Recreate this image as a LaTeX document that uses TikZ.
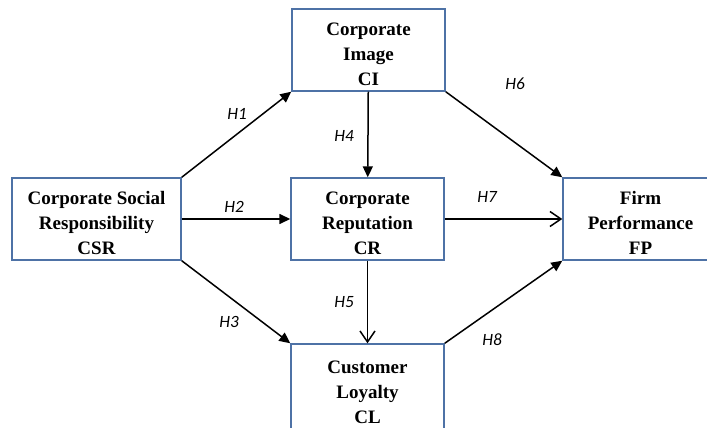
\documentclass[tikz,border=0pt]{standalone}
\usepackage{fontspec}
\setmainfont{Liberation Serif}
\newfontfamily\hlabfont{Carlito}
\usetikzlibrary{positioning,arrows.meta}
\definecolor{boxline}{HTML}{4E72A6}
\tikzset{
  % --- constructs ------------------------------------------------------
  construct/.style={draw=boxline, line width=0.7pt, fill=white,
                    inner sep=0pt, minimum width=76.5pt, minimum height=41pt,
                    font=\fontsize{9.5}{12.5}\selectfont\bfseries},
  % --- arrows ----------------------------------------------------------
  arrow/.style    ={-{Triangle[length=5.5pt,width=5pt]}, line width=0.75pt},
  openarrow/.style={-{Straight Barb[length=5.5pt,width=7.5pt]}, line width=0.75pt},
  % --- hypothesis tags -------------------------------------------------
  hyp/.style      ={font=\hlabfont\itshape\fontsize{8.6}{10}\selectfont, inner sep=0pt},
}
% centred lines of a construct, set a little low inside its box
\newcommand{\boxtext}[1]{\raisebox{-2.5pt}[\height][\depth]{%
  \begin{tabular}{@{}c@{}}#1\end{tabular}}}

\begin{document}
\begin{tikzpicture}[x=0.5pt, y=-0.5pt]
  \clip (0,0) rectangle (707,428);

  % ===================== constructs =====================
  \node[construct, minimum width=84.5pt] (csr) at (96.5,219)
    {\boxtext{Corporate Social\\Responsibility\\CSR}};
  \node[construct] (ci) at (368.5,50) {\boxtext{Corporate\\Image\\CI}};
  \node[construct] (cr) at (367.5,219) {\boxtext{Corporate\\Reputation\\CR}};
  \node[construct, minimum height=44pt] (cl) at (367.5,388)
    {\boxtext{Customer\\Loyalty\\CL}};
  \node[construct, minimum width=77.5pt] (fp) at (640.5,219)
    {\boxtext{Firm\\Performance\\FP}};

  % ===================== edges =====================
  \draw[arrow] (csr.north east) -- (ci.south west);
  \draw[arrow] (csr) -- (cr);
  \draw[arrow] (csr.south east) -- (cl.north west);
  \draw[arrow] (ci) -- (cr);
  \draw[openarrow] (cr) -- (cl);
  \draw[openarrow] (cr) -- (fp);
  \draw[arrow] (ci.south east) -- (fp.north west);
  \draw[arrow] (cl.north east) -- (fp.south west);

  % ===================== hypotheses =====================
  \node[hyp] (h1) at (237,114) {H1};
  \node[hyp] (h2) at (234,207) {H2};
  \node[hyp] (h3) at (229,322) {H3};
  \node[hyp] (h4) at (344,136) {H4};
  \node[hyp] (h5) at (344,302) {H5};
  \node[hyp] (h6) at (515,84) {H6};
  \node[hyp] (h7) at (487,197) {H7};
  \node[hyp] (h8) at (492,340) {H8};

\end{tikzpicture}
\end{document}
